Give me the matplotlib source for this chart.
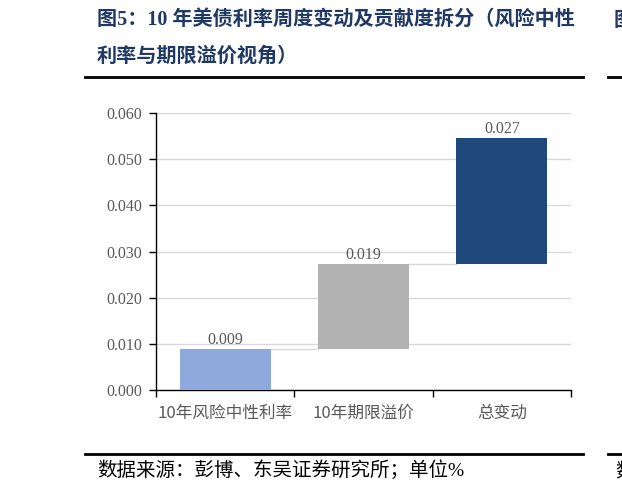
import matplotlib
matplotlib.use('Agg')
import matplotlib.pyplot as plt
from matplotlib.lines import Line2D

# 数据
categorias = ['10年风险中性利率', '10年期限溢价', '总变动']
bases = [0.0, 0.0088, 0.0273]
alturas = [0.0088, 0.0185, 0.0273]
etiquetas = ['0.009', '0.019', '0.027']
colores = ['#8EA9DB', '#B2B2B2', '#1F497D']
yticks = [0.0, 0.01, 0.02, 0.03, 0.04, 0.05, 0.06]

fuente_num = ['Liberation Serif', 'Noto Sans CJK SC']
fuente_cjk = ['Noto Sans CJK SC', 'DejaVu Sans']
gris_texto = '#595959'
azul_titulo = '#1F3864'

fig = plt.figure(figsize=(6.22, 4.92), dpi=100)
ax = fig.add_axes([156 / 622, 1 - 390 / 492, (571 - 156) / 622, (390 - 113) / 492])

x = list(range(len(categorias)))
ancho = 0.66
ax.bar(x, alturas, bottom=bases, width=ancho, color=colores, zorder=3)

# lineas de conexion entre barras
for i in range(len(x) - 1):
    nivel = bases[i] + alturas[i]
    ax.plot([x[i] + ancho / 2, x[i + 1] - ancho / 2], [nivel, nivel],
            color='#D9D9D9', lw=1, zorder=2)

for i, txt in enumerate(etiquetas):
    ax.annotate(txt, (x[i], bases[i] + alturas[i]), xytext=(0, 1),
                textcoords='offset points', ha='center', va='bottom',
                fontsize=11.5, color=gris_texto, family=fuente_num)

ax.set_xlim(-0.5, 2.5)
ax.set_ylim(0, 0.06)
ax.set_yticks(yticks)
ax.set_yticklabels([f'{v:.3f}' for v in yticks], family=fuente_num,
                   fontsize=11.5, color=gris_texto)
ax.set_xticks(x)
ax.set_xticklabels(categorias, family=fuente_cjk, fontsize=12, color=gris_texto)
ax.set_xticks([-0.5, 0.5, 1.5, 2.5], minor=True)
ax.tick_params(axis='x', which='major', length=0, pad=11)
ax.tick_params(axis='x', which='minor', length=5, width=1, direction='out')
ax.tick_params(axis='y', length=5, width=1, pad=5)

ax.yaxis.grid(True, color='#D9D9D9', lw=1, zorder=0)
ax.set_axisbelow(True)
for s in ['top', 'right']:
    ax.spines[s].set_visible(False)
for s in ['left', 'bottom']:
    ax.spines[s].set_linewidth(1)
    ax.spines[s].set_color('black')

# titulo y fuente
fig.text(97 / 622, 1 - 20 / 492, '图5：10 年美债利率周度变动及贡献度拆分（风险中性',
         family=fuente_num, fontweight='bold', fontsize=14.5, color=azul_titulo,
         va='center', ha='left')
fig.text(97 / 622, 1 - 57 / 492, '利率与期限溢价视角）',
         family=fuente_num, fontweight='bold', fontsize=14.5, color=azul_titulo,
         va='center', ha='left')
fig.text(614 / 622, 1 - 20 / 492, '图', family=fuente_cjk, fontweight='bold',
         fontsize=14.5, color=azul_titulo, va='center', ha='left')

fig.text(97 / 622, 1 - 470 / 492, '数据来源：彭博、东吴证券研究所；单位%',
         family=fuente_num, fontsize=14, color='black', va='center', ha='left')
fig.text(615 / 622, 1 - 472 / 492, '数', family=fuente_cjk,
         fontsize=14, color='black', va='center', ha='left')

for y in [77, 454]:
    fig.add_artist(Line2D([85 / 622, 583 / 622], [1 - y / 492, 1 - y / 492],
                          color='black', lw=2))
    fig.add_artist(Line2D([608 / 622, 1.0], [1 - y / 492, 1 - y / 492],
                          color='black', lw=2))

fig.savefig('out.png', dpi=100)
